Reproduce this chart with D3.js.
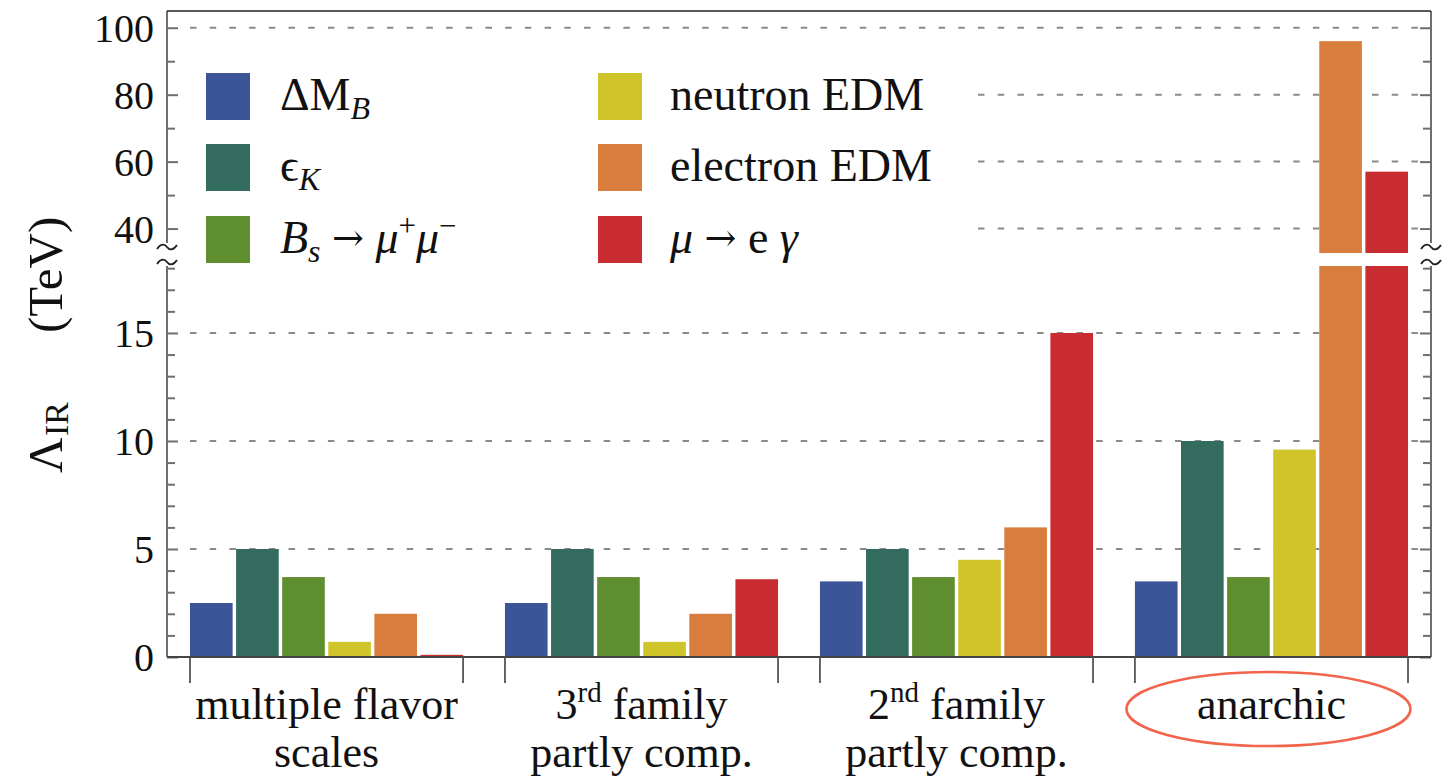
<!DOCTYPE html>
<html><head><meta charset="utf-8">
<script src="https://cdn.jsdelivr.net/npm/d3@7"></script>
<style>
html,body{margin:0;padding:0;background:#fff;}
svg{display:block;font-family:"Liberation Serif","Times New Roman",serif;}
</style></head>
<body><svg id="chart" width="1455" height="784"></svg>
<script>
// ---- data ----
const groups = ["multiple flavor scales", "3rd family partly comp.", "2nd family partly comp.", "anarchic"];
const seriesNames = ["ΔM_B", "ϵ_K", "B_s → μ⁺μ⁻", "neutron EDM", "electron EDM", "μ → e γ"];
const deltaMB   = [2.5, 2.5, 3.5, 3.5];
const epsK      = [5.0, 5.0, 5.0, 10.0];
const bsMuMu    = [3.7, 3.7, 3.7, 3.7];
const neutronEDM  = [0.7, 0.7, 4.5, 9.6];
const electronEDM = [2.0, 2.0, 6.0, 96];
const muEGamma    = [0.1, 3.6, 15.0, 57];
const seriesColors = ["#3b5598", "#336b5f", "#5f8e2f", "#d0c42b", "#d97d3e", "#c92d32"];
const lowerMajor = [0, 5, 10, 15];
const lowerMinor = [1,2,3,4,6,7,8,9,11,12,13,14,16,17,18];
const upperMajor = [40, 60, 80, 100];
const upperMinor = [50, 70, 90];
const lowerDomain = [0, 18.1];
const upperDomain = [32.7, 105];
const groupLabelLines = [
  [[["multiple flavor", false]], [["scales", false]]],
  [[["3", false], ["rd", true], [" family", false]], [["partly comp.", false]]],
  [[["2", false], ["nd", true], [" family", false]], [["partly comp.", false]]],
  [[["anarchic", false]]]
];
const values = [deltaMB, epsK, bsMuMu, neutronEDM, electronEDM, muEGamma];

// ---- layout ----
const L = 167, R = 1431, T = 11, B = 657;
const svg = d3.select("#chart");

const x0 = d3.scaleBand().domain(groups).range([L, R]).paddingInner(0.133).paddingOuter(0.073);
const x1 = d3.scaleBand().domain(d3.range(6)).range([0, x0.bandwidth()]).paddingInner(0.075).paddingOuter(0);
const yLow = d3.scaleLinear().domain(lowerDomain).range([B, 266]);
const yUp = d3.scaleLinear().domain(upperDomain).range([253, T]);

// gridlines
const grid = svg.append("g");
const gridLine = (y) => grid.append("line").attr("x1", 190).attr("x2", 1421).attr("y1", y).attr("y2", y)
  .attr("stroke", "#8a8a8a").attr("stroke-width", 2).attr("stroke-dasharray", "6.5 13.2");
lowerMajor.filter(v => v > 0).forEach(v => gridLine(yLow(v)));
upperMajor.forEach(v => gridLine(yUp(v)));

// legend background (covers grid)
svg.append("rect").attr("x", 184).attr("y", 42).attr("width", 790).attr("height", 232).attr("fill", "#fff");

// bars
const barG = svg.append("g");
groups.forEach((g, gi) => {
  values.forEach((arr, si) => {
    const v = arr[gi];
    const bx = x0(g) + x1(si), bw = x1.bandwidth();
    if (v <= lowerDomain[1]) {
      barG.append("rect").attr("x", bx).attr("width", bw).attr("y", yLow(v)).attr("height", yLow(0) - yLow(v))
        .attr("fill", seriesColors[si]);
    } else {
      barG.append("rect").attr("x", bx).attr("width", bw).attr("y", yLow(lowerDomain[1])).attr("height", yLow(0) - yLow(lowerDomain[1]))
        .attr("fill", seriesColors[si]);
      barG.append("rect").attr("x", bx).attr("width", bw).attr("y", yUp(v)).attr("height", yUp(upperDomain[0]) - yUp(v))
        .attr("fill", seriesColors[si]);
    }
  });
});

// axes
const axColor = "#6e6e6e";
function styleAxis(g, width) {
  g.select(".domain").remove();
  g.selectAll(".tick line").attr("stroke", axColor).attr("stroke-width", width);
  g.selectAll(".tick text").attr("font-family", "Liberation Serif, serif").attr("font-size", 40).attr("fill", "#111");
}
let g;
g = svg.append("g").attr("transform", `translate(${L},0)`).call(d3.axisLeft(yLow).tickValues(lowerMajor).tickSize(-11).tickPadding(13).tickFormat(d3.format("d")));
styleAxis(g, 2); g.selectAll(".tick text").attr("dy", "0.34em");
g = svg.append("g").attr("transform", `translate(${L},0)`).call(d3.axisLeft(yLow).tickValues(lowerMinor).tickSize(-8).tickFormat(""));
styleAxis(g, 2);
g = svg.append("g").attr("transform", `translate(${L},0)`).call(d3.axisLeft(yUp).tickValues(upperMajor).tickSize(-11).tickPadding(13).tickFormat(d3.format("d")));
styleAxis(g, 2); g.selectAll(".tick text").attr("dy", "0.34em");
g = svg.append("g").attr("transform", `translate(${L},0)`).call(d3.axisLeft(yUp).tickValues(upperMinor).tickSize(-8).tickFormat(""));
styleAxis(g, 2);
g = svg.append("g").attr("transform", `translate(${R},0)`).call(d3.axisRight(yLow).tickValues(lowerMajor).tickSize(-11).tickFormat(""));
styleAxis(g, 2);
g = svg.append("g").attr("transform", `translate(${R},0)`).call(d3.axisRight(yLow).tickValues(lowerMinor).tickSize(-8).tickFormat(""));
styleAxis(g, 2);
g = svg.append("g").attr("transform", `translate(${R},0)`).call(d3.axisRight(yUp).tickValues(upperMajor).tickSize(-11).tickFormat(""));
styleAxis(g, 2);
g = svg.append("g").attr("transform", `translate(${R},0)`).call(d3.axisRight(yUp).tickValues(upperMinor).tickSize(-8).tickFormat(""));
styleAxis(g, 2);

// vertical axis lines with breaks
[L, R].forEach(ax => {
  svg.append("line").attr("x1", ax).attr("x2", ax).attr("y1", T).attr("y2", 243).attr("stroke", axColor).attr("stroke-width", 2);
  svg.append("line").attr("x1", ax).attr("x2", ax).attr("y1", 266).attr("y2", B).attr("stroke", axColor).attr("stroke-width", 2);
  [247, 262].forEach(by => {
    svg.append("path").attr("d", `M${ax-10},${by+2} C${ax-6},${by-4} ${ax-2},${by-3} ${ax},${by} C${ax+2},${by+3} ${ax+6},${by+4} ${ax+10},${by-2}`)
      .attr("fill", "none").attr("stroke", "#222").attr("stroke-width", 1.8);
  });
});
svg.append("line").attr("x1", L).attr("x2", R).attr("y1", T).attr("y2", T).attr("stroke", "#222").attr("stroke-width", 1.6);
svg.append("line").attr("x1", L).attr("x2", R).attr("y1", B).attr("y2", B).attr("stroke", "#444").attr("stroke-width", 2);
groups.forEach(gname => {
  [x0(gname), x0(gname) + x0.bandwidth()].forEach(tx => {
    svg.append("line").attr("x1", tx).attr("x2", tx).attr("y1", B).attr("y2", 683).attr("stroke", "#555").attr("stroke-width", 1.8);
  });
});

// group labels
groups.forEach((gname, gi) => {
  const cx = x0(gname) + x0.bandwidth() / 2;
  groupLabelLines[gi].forEach((line, li) => {
    const t = svg.append("text").attr("x", cx).attr("y", 719 + li * 48).attr("text-anchor", "middle")
      .attr("font-size", 44).attr("fill", "#111");
    line.forEach(([s, sup], k) => {
      const ts = t.append("tspan").text(s);
      if (sup) ts.attr("font-size", 29).attr("dy", -17);
      else if (k > 0 && line[k-1][1]) ts.attr("dy", 17);
    });
  });
});
const gA = groups[3];
svg.append("ellipse").attr("cx", x0(gA) + x0.bandwidth() / 2 - 3).attr("cy", 709).attr("rx", 142).attr("ry", 37)
  .attr("fill", "none").attr("stroke", "#f3644c").attr("stroke-width", 2.6);

// y-axis title
const yt = svg.append("text").attr("transform", "translate(62,473) rotate(-90)").attr("font-size", 49).attr("fill", "#111");
yt.append("tspan").attr("x", 0).text("Λ");
yt.append("tspan").attr("x", 37).attr("dy", 6).attr("font-size", 34).text("IR");
yt.append("tspan").attr("x", 140).attr("dy", -6).text("(TeV)");

// legend
const legendCols = [206, 598], legendTextX = [280, 670], legendRows = [73, 144, 216];
const legendParts = [
  [["ΔM", ""], ["B", "sub-i"]],
  [["ϵ", ""], ["K", "sub-i"]],
  [["B", "i"], ["s", "sub-i"], [" ", ""], ["→", "arrow"], [" ", ""], ["μ", "i"], ["+", "sup"], ["μ", "i"], ["−", "sup"]],
  [["neutron EDM", ""]],
  [["electron EDM", ""]],
  [["μ", "i"], [" ", ""], ["→", "arrow"], [" e ", ""], ["γ", "i"]]
];
seriesNames.forEach((name, si) => {
  const col = Math.floor(si / 3), row = si % 3;
  svg.append("rect").attr("x", legendCols[col]).attr("y", legendRows[row]).attr("width", 44).attr("height", 47)
    .attr("fill", seriesColors[si]);
  const t = svg.append("text").attr("x", legendTextX[col]).attr("y", legendRows[row] + 37).attr("font-size", 46).attr("fill", "#111");
  let shift = 0;
  legendParts[si].forEach(([s, kind]) => {
    const ts = t.append("tspan").text(s);
    let target = 0;
    if (kind.startsWith("sub")) { ts.attr("font-size", 32); target = 9; }
    if (kind === "sup") { ts.attr("font-size", 31); target = -17; }
    if (kind === "arrow") { ts.attr("font-family", "DejaVu Serif, serif").attr("font-size", 38); target = -2; }
    if (kind.includes("i") && kind !== "arrow") ts.attr("font-style", "italic");
    if (target !== shift) { ts.attr("dy", target - shift); shift = target; }
  });
});
</script></body></html>
